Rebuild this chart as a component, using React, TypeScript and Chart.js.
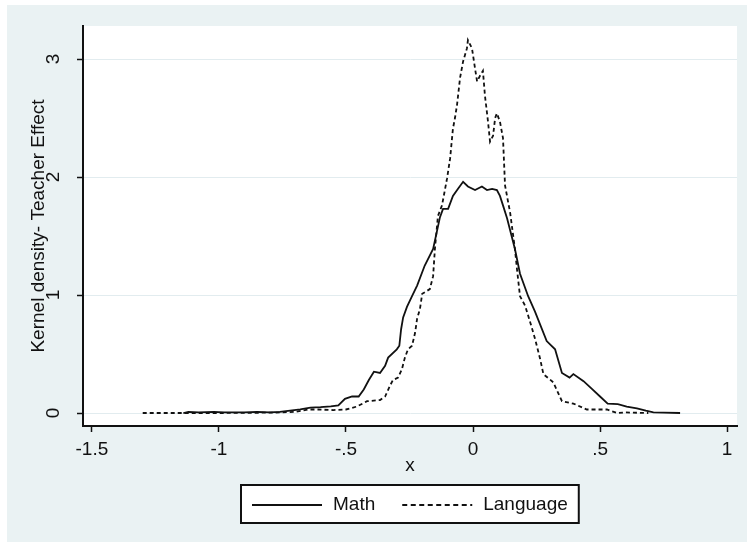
import React, { useEffect, useRef } from 'react';
import { Chart, registerables } from 'chart.js';

Chart.register(...registerables);

// ---- Data ----
const seriesNames = ['Math', 'Language'];

const mathX = [
  -1.14, -1.12, -1.08, -1.02, -0.98, -0.9, -0.85, -0.8, -0.76, -0.72, -0.68, -0.64, -0.6,
  -0.56, -0.53, -0.504, -0.476, -0.45, -0.43, -0.41, -0.39, -0.366, -0.346, -0.334, -0.3,
  -0.29, -0.283, -0.275, -0.26, -0.24, -0.22, -0.19, -0.157, -0.13, -0.118, -0.098, -0.079,
  -0.059, -0.039, -0.02, 0.008, 0.035, 0.055, 0.075, 0.094, 0.106, 0.118, 0.134, 0.165,
  0.185, 0.217, 0.244, 0.29, 0.323, 0.35, 0.38, 0.395, 0.435, 0.47, 0.5, 0.53, 0.57, 0.605,
  0.645, 0.68, 0.71, 0.75, 0.815,
];
const mathY = [
  0.0, 0.01, 0.005, 0.01, 0.005, 0.005, 0.01, 0.005, 0.01, 0.02, 0.03, 0.045, 0.05,
  0.057, 0.064, 0.12, 0.14, 0.14, 0.2, 0.28, 0.35, 0.34, 0.4, 0.47, 0.54,
  0.57, 0.71, 0.81, 0.9, 0.99, 1.08, 1.25, 1.39, 1.66, 1.73, 1.73, 1.84,
  1.9, 1.96, 1.92, 1.89, 1.92, 1.89, 1.9, 1.89, 1.84, 1.76, 1.65, 1.39,
  1.18, 0.99, 0.86, 0.61, 0.54, 0.34, 0.3, 0.33, 0.27, 0.2, 0.14, 0.08, 0.075, 0.055,
  0.04, 0.02, 0.005, 0.003, 0.0,
];

const langX = [
  -1.3, -1.0, -0.8, -0.76, -0.7, -0.65, -0.61, -0.55, -0.5, -0.457, -0.417, -0.366, -0.346,
  -0.327, -0.315, -0.295, -0.28, -0.268, -0.256, -0.24, -0.228, -0.22, -0.209, -0.2, -0.17,
  -0.157, -0.15, -0.138, -0.122, -0.102, -0.09, -0.079, -0.071, -0.063, -0.051, -0.039,
  -0.024, -0.02, -0.004, 0.008, 0.016, 0.028, 0.039, 0.047, 0.059, 0.067, 0.079, 0.087,
  0.094, 0.106, 0.118, 0.122, 0.126, 0.138, 0.146, 0.165, 0.173, 0.185, 0.205, 0.225,
  0.244, 0.264, 0.277, 0.316, 0.35, 0.395, 0.448, 0.527, 0.567, 0.6, 0.69,
];
const langY = [
  0.0, 0.0, 0.003, 0.005, 0.01, 0.03, 0.03, 0.025, 0.03, 0.055, 0.1, 0.11, 0.14,
  0.23, 0.28, 0.3, 0.37, 0.47, 0.54, 0.57, 0.68, 0.8, 0.88, 1.01, 1.05,
  1.16, 1.39, 1.67, 1.76, 1.99, 2.16, 2.41, 2.5, 2.61, 2.84, 2.98,
  3.09, 3.16, 3.09, 2.92, 2.81, 2.86, 2.9, 2.69, 2.47, 2.3, 2.35, 2.5,
  2.54, 2.47, 2.33, 2.13, 1.93, 1.79, 1.7, 1.39, 1.22, 0.99, 0.91, 0.77,
  0.63, 0.46, 0.33, 0.26, 0.1, 0.08, 0.03, 0.03, 0.0, 0.005, 0.0,
];

const xTicks = [-1.5, -1, -0.5, 0, 0.5, 1];
const xTickLabels = ['-1.5', '-1', '-.5', '0', '.5', '1'];
const yTicks = [0, 1, 2, 3];
const yTickLabels = ['0', '1', '2', '3'];
const xTitle = 'x';
const yTitle = 'Kernel density- Teacher Effect';

// ---- Styles ----
const FONT = '"Liberation Sans", Arial, Helvetica, sans-serif';
const FS = 19;
const INK = '#111111';
const BG = '#eaf2f3';
const GRID = '#e2ecef';
const LEGEND_DASH = [5, 3.5];

const plotBackground = {
  id: 'plotBackground',
  beforeDraw(chart: any) {
    const { ctx, chartArea } = chart;
    ctx.save();
    ctx.fillStyle = '#ffffff';
    ctx.fillRect(chartArea.left, chartArea.top, chartArea.right - chartArea.left, chartArea.bottom - chartArea.top);
    ctx.restore();
  },
};

const boxLegend = {
  id: 'boxLegend',
  afterDraw(chart: any) {
    const { ctx, chartArea } = chart;
    ctx.save();
    ctx.font = `${FS}px ${FONT}`;
    const keyW = 70;
    const gapKT = 11;
    const gapItems = 27;
    const padX = 11;
    const items = chart.data.datasets.map((ds: any, i: number) => ({
      label: ds.label,
      dash: i === 0 ? [] : LEGEND_DASH,
      color: ds.borderColor,
      lw: ds.borderWidth,
      w: ctx.measureText(ds.label).width,
    }));
    let total = padX * 2;
    items.forEach((it: any, i: number) => {
      total += keyW + gapKT + it.w + (i ? gapItems : 0);
    });
    const cx = (chartArea.left + chartArea.right) / 2;
    const left = Math.round(cx - total / 2);
    const top = chartArea.bottom + 59;
    const h = 38;
    ctx.fillStyle = '#ffffff';
    ctx.fillRect(left, top, total, h);
    ctx.lineWidth = 2;
    ctx.strokeStyle = INK;
    ctx.strokeRect(left, top, total, h);
    let x = left + padX;
    const cy = top + h / 2 + 1;
    items.forEach((it: any, i: number) => {
      if (i) x += gapItems;
      ctx.beginPath();
      ctx.setLineDash(it.dash);
      ctx.lineWidth = it.lw;
      ctx.strokeStyle = it.color;
      ctx.moveTo(x, cy);
      ctx.lineTo(x + keyW, cy);
      ctx.stroke();
      ctx.setLineDash([]);
      x += keyW + gapKT;
      ctx.fillStyle = INK;
      ctx.textAlign = 'left';
      ctx.textBaseline = 'middle';
      ctx.fillText(it.label, x, cy);
      x += it.w;
    });
    ctx.restore();
  },
};

export default function App() {
  const canvasRef = useRef<HTMLCanvasElement | null>(null);

  useEffect(() => {
    if (!canvasRef.current) return;
    Chart.defaults.font.family = FONT;
    const chart = new Chart(canvasRef.current, {
      type: 'line',
      data: {
        datasets: [
          {
            label: seriesNames[0],
            data: mathX.map((x, i) => ({ x, y: mathY[i] })),
            borderColor: INK,
            borderWidth: 1.8,
            pointRadius: 0,
            tension: 0,
            fill: false,
          },
          {
            label: seriesNames[1],
            data: langX.map((x, i) => ({ x, y: langY[i] })),
            borderColor: INK,
            borderWidth: 1.8,
            borderDash: [4, 3],
            pointRadius: 0,
            tension: 0,
            fill: false,
          },
        ],
      },
      options: {
        animation: false,
        responsive: false,
        layout: { padding: { left: 0, right: 10, top: 21, bottom: 0 } },
        plugins: {
          legend: { display: false },
          tooltip: { enabled: false },
        },
        scales: {
          x: {
            type: 'linear',
            min: -1.535,
            max: 1.039,
            afterBuildTicks: (s: any) => {
              s.ticks = xTicks.map((v) => ({ value: v }));
            },
            afterFit: (s: any) => {
              s.height = 116;
              s.paddingLeft = 0;
              s.paddingRight = 0;
            },
            ticks: {
              callback: (v: any) => {
                const i = xTicks.indexOf(Number(v));
                return i >= 0 ? xTickLabels[i] : '';
              },
              padding: 6,
              font: { size: FS },
              color: INK,
              minRotation: 0,
              maxRotation: 0,
              autoSkip: false,
            },
            grid: {
              drawOnChartArea: false,
              drawTicks: true,
              tickLength: 6,
              tickColor: INK,
              tickWidth: 1.5,
            },
            border: { display: true, color: INK, width: 2 },
            title: {
              display: true,
              text: xTitle,
              font: { size: FS },
              color: INK,
              padding: { top: 0, bottom: 65 },
            },
          },
          y: {
            type: 'linear',
            min: -0.11,
            max: 3.28,
            afterBuildTicks: (s: any) => {
              s.ticks = yTicks.map((v) => ({ value: v }));
            },
            afterFit: (s: any) => {
              s.width = 76;
              s.paddingTop = 0;
              s.paddingBottom = 0;
            },
            ticks: {
              callback: (v: any) => {
                const i = yTicks.indexOf(Number(v));
                return i >= 0 ? yTickLabels[i] : '';
              },
              padding: 18,
              font: { size: FS },
              color: INK,
              minRotation: 90,
              maxRotation: 90,
              crossAlign: 'center',
              autoSkip: false,
            },
            grid: {
              drawOnChartArea: true,
              color: GRID,
              lineWidth: 1,
              drawTicks: true,
              tickLength: 6,
              tickColor: INK,
              tickWidth: 1.5,
            },
            border: { display: true, color: INK, width: 2 },
            title: {
              display: true,
              text: yTitle,
              font: { size: FS },
              color: INK,
              padding: { top: 20, bottom: 0 },
            },
          },
        },
      },
      plugins: [plotBackground, boxLegend],
    } as any);
    return () => chart.destroy();
  }, []);

  return (
    <div
      style={{
        position: 'absolute',
        left: 7,
        top: 5,
        width: 740,
        height: 537,
        background: BG,
      }}
    >
      <canvas ref={canvasRef} width={740} height={537} style={{ display: 'block', width: 740, height: 537 }} />
    </div>
  );
}
